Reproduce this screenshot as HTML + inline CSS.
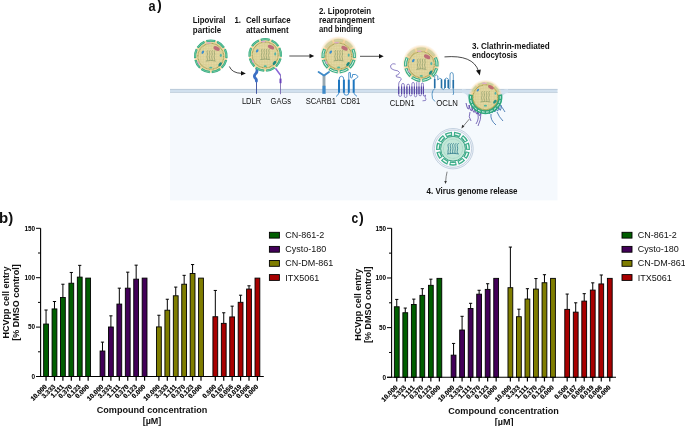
<!DOCTYPE html>
<html><head><meta charset="utf-8"><style>
html,body{margin:0;padding:0;background:#fff;}
svg{display:block;}
text{font-family:"Liberation Sans",Arial,sans-serif;}
</style></head><body>
<svg width="685" height="426" viewBox="0 0 685 426">
<defs>
<radialGradient id="halo" cx="0.5" cy="0.5" r="0.5">
<stop offset="0.8" stop-color="#f4d29b" stop-opacity="1"/>
<stop offset="1" stop-color="#f8e0b8" stop-opacity="0"/>
</radialGradient>
<pattern id="grid" width="1.6" height="1.6" patternUnits="userSpaceOnUse">
<path d="M0,0.4 H1.6 M0.4,0 V1.6" stroke="#c9bf80" stroke-width="0.45" fill="none"/>
</pattern>
</defs>
<rect width="685" height="426" fill="#fff"/>

<text x="148.6" y="10.9" font-size="14.8" font-weight="bold" fill="#111" textLength="7.1" lengthAdjust="spacingAndGlyphs">a</text>
<text x="156.9" y="10.3" font-size="14.3" font-weight="bold" fill="#111">)</text>
<rect x="170" y="92" width="387.5" height="108.4" fill="#f5f9fd"/>
<rect x="170" y="89" width="387.5" height="4" fill="#d1e0ee"/>
<rect x="170" y="88.9" width="387.5" height="0.9" fill="#b9c9d7"/>
<rect x="170" y="92.1" width="387.5" height="0.8" fill="#c5d1dc"/>
<text x="192.8" y="23.2" font-size="8.7" font-weight="bold" fill="#111" textLength="32.6" lengthAdjust="spacingAndGlyphs">Lipoviral</text>
<text x="192.8" y="32.5" font-size="8.7" font-weight="bold" fill="#111" textLength="28.5" lengthAdjust="spacingAndGlyphs">particle</text>
<text x="234.5" y="23.2" font-size="8.7" font-weight="bold" fill="#111" textLength="6.5" lengthAdjust="spacingAndGlyphs">1.</text>
<text x="245.9" y="23.2" font-size="8.7" font-weight="bold" fill="#111" textLength="44.7" lengthAdjust="spacingAndGlyphs">Cell surface</text>
<text x="245.9" y="32.6" font-size="8.7" font-weight="bold" fill="#111" textLength="42.8" lengthAdjust="spacingAndGlyphs">attachment</text>
<text x="318.9" y="13.6" font-size="8.7" font-weight="bold" fill="#111" textLength="52.2" lengthAdjust="spacingAndGlyphs">2. Lipoprotein</text>
<text x="318.9" y="23.0" font-size="8.7" font-weight="bold" fill="#111" textLength="55.8" lengthAdjust="spacingAndGlyphs">rearrangement</text>
<text x="318.9" y="32.3" font-size="8.7" font-weight="bold" fill="#111" textLength="43.7" lengthAdjust="spacingAndGlyphs">and binding</text>
<text x="472.0" y="49.0" font-size="8.7" font-weight="bold" fill="#111" textLength="77.8" lengthAdjust="spacingAndGlyphs">3. Clathrin-mediated</text>
<text x="472.0" y="58.0" font-size="8.7" font-weight="bold" fill="#111" textLength="45.2" lengthAdjust="spacingAndGlyphs">endocytosis</text>
<text x="426.6" y="193.7" font-size="8.7" font-weight="bold" fill="#111" textLength="90.9" lengthAdjust="spacingAndGlyphs">4. Virus genome release</text>
<text x="241.9" y="104.2" font-size="8.4" fill="#111" textLength="19.3" lengthAdjust="spacingAndGlyphs">LDLR</text>
<text x="270.6" y="104.2" font-size="8.4" fill="#111" textLength="20.4" lengthAdjust="spacingAndGlyphs">GAGs</text>
<text x="305.7" y="104.2" font-size="8.4" fill="#111" textLength="30.3" lengthAdjust="spacingAndGlyphs">SCARB1</text>
<text x="340.7" y="104.2" font-size="8.4" fill="#111" textLength="19.5" lengthAdjust="spacingAndGlyphs">CD81</text>
<text x="389.8" y="105.7" font-size="8.4" fill="#111" textLength="24.9" lengthAdjust="spacingAndGlyphs">CLDN1</text>
<text x="436.3" y="106.0" font-size="8.4" fill="#111" textLength="21.7" lengthAdjust="spacingAndGlyphs">OCLN</text>
<path d="M229.4,66.5 Q232,73 241.5,73.4" fill="none" stroke="#1a1a1a" stroke-width="0.8"/>
<path d="M241,71.1 L245.8,73.4 L241,75.6 Z" fill="#111"/>
<line x1="289.3" y1="56" x2="310" y2="56" stroke="#1a1a1a" stroke-width="0.75"/>
<path d="M309.5,53.8 L314.2,56 L309.5,58.2 Z" fill="#111"/>
<line x1="360" y1="56.3" x2="379.5" y2="56.3" stroke="#1a1a1a" stroke-width="0.75"/>
<path d="M379,54.1 L383.7,56.3 L379,58.5 Z" fill="#111"/>
<path d="M444.5,56.9 Q473,54.5 478.5,71" fill="none" stroke="#1a1a1a" stroke-width="0.8"/>
<path d="M476,70.5 L479.8,75.5 L480.8,69.5 Z" fill="#111"/>
<line x1="469.3" y1="119.1" x2="463" y2="126.5" stroke="#333" stroke-width="0.6"/>
<path d="M461.5,128.5 L462.2,124.8 L464.4,126.6 Z" fill="#333"/>
<path d="M447.1,171.7 Q446,176 445.6,182" fill="none" stroke="#333" stroke-width="0.6"/>
<path d="M444.3,181 L445.5,184 L446.8,181 Z" fill="#333"/>
<line x1="256.5" y1="79" x2="256.5" y2="93.8" stroke="#34489a" stroke-width="0.9"/>
<path d="M256.8,68.6 Q257.6,71.5 256,73.2 Q253.6,75.4 254.8,77.6 Q256.6,79.4 256.4,81" fill="none" stroke="#3b6fc4" stroke-width="2.8" stroke-linecap="round"/>
<path d="M280.5,75 L280.5,94.2" fill="none" stroke="#6f5ca8" stroke-width="0.8"/>
<path d="M275.8,68.8 L280.2,74.8" stroke="#8a66d6" stroke-width="1.5" stroke-linecap="round"/>
<line x1="280.5" y1="78.6" x2="280.5" y2="83.2" stroke="#6b42bc" stroke-width="2"/>
<line x1="324" y1="75" x2="324" y2="86" stroke="#8b9ea8" stroke-width="2.8"/>
<line x1="324" y1="76" x2="324" y2="85.5" stroke="#a9b8bf" stroke-width="0.8"/>
<line x1="324" y1="85.8" x2="324" y2="93.8" stroke="#3f8ac8" stroke-width="3.3"/>
<path d="M318.6,72 L323.6,75.2 M329,72 L324.4,75.2" fill="none" stroke="#3f8ac8" stroke-width="1.9" stroke-linecap="round"/>
<path d="M336,96.5 Q338,95.5 339,92.8 M339,80 Q339,76.2 341.45,76.2 Q343.9,76.2 343.9,80 M343.9,92.8 Q343.9,95.2 346.35,95.2 Q348.8,95.2 348.8,92.8 M348.8,80 L348.8,73 Q349.6,71 350.4,73 L350.6,77.5 Q351.5,79 352.3,77 L352.6,74.5 Q356,73.5 358.2,76.6 Q356.5,78.5 353.7,80 M353.7,92.8 Q355,95.5 357,96.3" fill="none" stroke="#1f77c0" stroke-width="0.8"/>
<line x1="339" y1="79.7" x2="339" y2="92.8" stroke="#1f77c0" stroke-width="2"/>
<line x1="343.9" y1="79.7" x2="343.9" y2="92.8" stroke="#1f77c0" stroke-width="2"/>
<line x1="348.8" y1="79.7" x2="348.8" y2="92.8" stroke="#1f77c0" stroke-width="2"/>
<line x1="353.7" y1="79.7" x2="353.7" y2="92.8" stroke="#1f77c0" stroke-width="2"/>
<path d="M395.6,64.2 Q392,62.8 390.5,66 Q390,69 394,70 Q399,70.5 399.5,72.5 Q399,75 396,75.5 Q395,77.3 400,77.5 Q402.5,78.5 400.5,80.5 Q398.7,82 398.7,84 L398.7,95.1 Q398.7,96.4 400.15,96.4 Q401.6,96.4 401.6,95.1 L401.6,84.8 Q401.6,83.5 402.95,83.5 Q404.3,83.5 404.3,84.8 L404.3,96.2 Q404.3,97.5 405.60,97.5 Q406.9,97.5 406.9,96.2 L406.9,85.5 Q406.9,84.2 408.20,84.2 Q409.5,84.2 409.5,85.5 L409.5,94.6 Q409.5,95.9 410.70,95.9 Q411.9,95.9 411.9,94.6 L411.9,83.8 Q411.9,82.5 413.15,82.5 Q414.4,82.5 414.4,83.8 L414.4,95.5 Q414.4,96.8 415.55,96.8 Q416.7,96.8 416.7,95.5 L416.7,82.5 Q416.7,81.2 417.85,81.2 Q419.0,81.2 419.0,82.5 L419.0,94.5 Q419.0,95.8 420.20,95.8 Q421.4,95.8 421.4,94.5 L421.4,84.3 Q421.4,83.0 422.40,83.0 Q423.4,83.0 423.4,84.3 L423.4,94.9 Q423.4,96.2 424.35,96.2 Q425.3,96.2 425.3,94.9 L425.3,97.5 Q426.5,99.5 425.5,100.5 L422.5,100.8" fill="none" stroke="#6a59b2" stroke-width="0.75"/>
<line x1="398.7" y1="86.5" x2="398.7" y2="94" stroke="#5a49a6" stroke-width="1.2"/>
<line x1="401.6" y1="86.5" x2="401.6" y2="94" stroke="#5a49a6" stroke-width="1.2"/>
<line x1="404.3" y1="86.5" x2="404.3" y2="94" stroke="#5a49a6" stroke-width="1.2"/>
<line x1="406.9" y1="86.5" x2="406.9" y2="94" stroke="#5a49a6" stroke-width="1.2"/>
<line x1="409.5" y1="86.5" x2="409.5" y2="94" stroke="#5a49a6" stroke-width="1.2"/>
<line x1="411.9" y1="86.5" x2="411.9" y2="94" stroke="#5a49a6" stroke-width="1.2"/>
<line x1="414.4" y1="86.5" x2="414.4" y2="94" stroke="#5a49a6" stroke-width="1.2"/>
<line x1="416.7" y1="86.5" x2="416.7" y2="94" stroke="#5a49a6" stroke-width="1.2"/>
<line x1="419.0" y1="86.5" x2="419.0" y2="94" stroke="#5a49a6" stroke-width="1.2"/>
<line x1="421.4" y1="86.5" x2="421.4" y2="94" stroke="#5a49a6" stroke-width="1.2"/>
<line x1="423.4" y1="86.5" x2="423.4" y2="94" stroke="#5a49a6" stroke-width="1.2"/>
<path d="M435,101.5 Q431.5,99.5 432,94 Q432.5,90 434.7,88.5 L434.7,76 Q436.2,73.8 437.8,76 L437.8,80 Q439.6,77 441.5,79 L441.5,88 Q443.2,91 445,88 L445,79 Q446.6,77 448.3,79 L448.3,88 Q449.2,90 450,88 L450,75 Q450,72.5 451.7,72.5 Q453.3,72.5 453.3,75 L453.3,91 Q454.2,93 453,95" fill="none" stroke="#2f7cb5" stroke-width="0.75"/>
<line x1="434.7" y1="79" x2="434.7" y2="88" stroke="#246fa6" stroke-width="1.6"/>
<line x1="441.5" y1="79.5" x2="441.5" y2="88.3" stroke="#246fa6" stroke-width="1.6"/>
<line x1="445" y1="79.5" x2="445" y2="88" stroke="#246fa6" stroke-width="1.6"/>
<line x1="448.3" y1="80" x2="448.3" y2="88" stroke="#246fa6" stroke-width="1.6"/>
<line x1="453.3" y1="80" x2="453.3" y2="88.5" stroke="#246fa6" stroke-width="1.6"/>
<circle cx="210.8" cy="56.3" r="16.4" fill="#f4dba6"/>
<path d="M206.35,41.19 A15.75,15.75 0 0 1 215.25,41.19" fill="none" stroke="#36ad86" stroke-width="2.3" stroke-linecap="butt" opacity="1.0"/>
<path d="M207.10,40.99 A15.75,15.75 0 0 1 214.50,40.99" fill="none" stroke="#78cca4" stroke-width="0.8" opacity="1.0"/>
<path d="M217.11,41.87 A15.75,15.75 0 0 1 223.92,47.58" fill="none" stroke="#36ad86" stroke-width="2.3" stroke-linecap="butt" opacity="1.0"/>
<path d="M217.80,42.19 A15.75,15.75 0 0 1 223.48,46.95" fill="none" stroke="#78cca4" stroke-width="0.8" opacity="1.0"/>
<path d="M224.91,49.30 A15.75,15.75 0 0 1 226.45,58.06" fill="none" stroke="#36ad86" stroke-width="2.3" stroke-linecap="butt" opacity="1.0"/>
<path d="M225.23,49.99 A15.75,15.75 0 0 1 226.52,57.29" fill="none" stroke="#78cca4" stroke-width="0.8" opacity="1.0"/>
<path d="M226.11,60.00 A15.75,15.75 0 0 1 221.66,67.71" fill="none" stroke="#36ad86" stroke-width="2.3" stroke-linecap="butt" opacity="1.0"/>
<path d="M225.91,60.75 A15.75,15.75 0 0 1 222.21,67.16" fill="none" stroke="#78cca4" stroke-width="0.8" opacity="1.0"/>
<path d="M220.15,68.98 A15.75,15.75 0 0 1 211.79,72.02" fill="none" stroke="#36ad86" stroke-width="2.3" stroke-linecap="butt" opacity="1.0"/>
<path d="M219.52,69.42 A15.75,15.75 0 0 1 212.56,71.95" fill="none" stroke="#78cca4" stroke-width="0.8" opacity="1.0"/>
<path d="M209.81,72.02 A15.75,15.75 0 0 1 201.45,68.98" fill="none" stroke="#36ad86" stroke-width="2.3" stroke-linecap="butt" opacity="1.0"/>
<path d="M209.04,71.95 A15.75,15.75 0 0 1 202.08,69.42" fill="none" stroke="#78cca4" stroke-width="0.8" opacity="1.0"/>
<path d="M199.94,67.71 A15.75,15.75 0 0 1 195.49,60.00" fill="none" stroke="#36ad86" stroke-width="2.3" stroke-linecap="butt" opacity="1.0"/>
<path d="M199.39,67.16 A15.75,15.75 0 0 1 195.69,60.75" fill="none" stroke="#78cca4" stroke-width="0.8" opacity="1.0"/>
<path d="M195.15,58.06 A15.75,15.75 0 0 1 196.69,49.30" fill="none" stroke="#36ad86" stroke-width="2.3" stroke-linecap="butt" opacity="1.0"/>
<path d="M195.08,57.29 A15.75,15.75 0 0 1 196.37,49.99" fill="none" stroke="#78cca4" stroke-width="0.8" opacity="1.0"/>
<path d="M197.68,47.58 A15.75,15.75 0 0 1 204.49,41.87" fill="none" stroke="#36ad86" stroke-width="2.3" stroke-linecap="butt" opacity="1.0"/>
<path d="M198.12,46.95 A15.75,15.75 0 0 1 203.80,42.19" fill="none" stroke="#78cca4" stroke-width="0.8" opacity="1.0"/>
<circle cx="210.8" cy="56.3" r="12.9" fill="#e6dba6" stroke="#a9a55a" stroke-width="1.3" stroke-dasharray="1 0.4"/>
<circle cx="210.8" cy="56.3" r="12.2" fill="url(#grid)" opacity="0.55"/>
<circle cx="210.8" cy="56.3" r="10.4" fill="none" stroke="#cdc07c" stroke-width="0.5" stroke-dasharray="0.5 0.7"/>
<path d="M207.80,50.30 C206.00,51.80 208.40,53.80 207.20,55.50 C206.10,57.30 208.30,58.80 207.20,60.80 M210.20,50.30 C208.40,51.80 210.80,53.80 209.60,55.50 C208.50,57.30 210.70,58.80 209.60,60.80 M212.60,50.30 C210.80,51.80 213.20,53.80 212.00,55.50 C210.90,57.30 213.10,58.80 212.00,60.80 M215.00,50.30 C213.20,51.80 215.60,53.80 214.40,55.50 C213.30,57.30 215.50,58.80 214.40,60.80 M205.80,61.10 Q210.80,59.70 215.80,61.10" fill="none" stroke="#8d9e6c" stroke-width="0.75"/>
<ellipse cx="216.60000000000002" cy="48.5" rx="3.4" ry="1.9" fill="#bd6d78" transform="rotate(28 216.60000000000002 48.5)"/>
<ellipse cx="202.8" cy="52.3" rx="1.1" ry="1.8" fill="#3a8ed0" transform="rotate(30 202.8 52.3)"/>
<ellipse cx="220.8" cy="55.3" rx="1" ry="1.6" fill="#55b3a6"/>
<ellipse cx="220.10000000000002" cy="64.3" rx="2.3" ry="1.3" fill="#1f8a80" transform="rotate(-50 220.10000000000002 64.3)"/>
<ellipse cx="210.8" cy="67.6" rx="1.6" ry="0.9" fill="#4fb89f"/>
<ellipse cx="198.5" cy="62.8" rx="0.8" ry="1.8" fill="#e0a4c6" transform="rotate(-30 198.5 62.8)"/>
<ellipse cx="208.8" cy="43.0" rx="2.6" ry="0.8" fill="#dcaacb"/>
<circle cx="265.2" cy="54.9" r="16.4" fill="#f4dba6"/>
<path d="M260.75,39.79 A15.75,15.75 0 0 1 269.65,39.79" fill="none" stroke="#36ad86" stroke-width="2.3" stroke-linecap="butt" opacity="1.0"/>
<path d="M261.50,39.59 A15.75,15.75 0 0 1 268.90,39.59" fill="none" stroke="#78cca4" stroke-width="0.8" opacity="1.0"/>
<path d="M271.51,40.47 A15.75,15.75 0 0 1 278.32,46.18" fill="none" stroke="#36ad86" stroke-width="2.3" stroke-linecap="butt" opacity="1.0"/>
<path d="M272.20,40.79 A15.75,15.75 0 0 1 277.88,45.55" fill="none" stroke="#78cca4" stroke-width="0.8" opacity="1.0"/>
<path d="M279.31,47.90 A15.75,15.75 0 0 1 280.85,56.66" fill="none" stroke="#36ad86" stroke-width="2.3" stroke-linecap="butt" opacity="1.0"/>
<path d="M279.63,48.59 A15.75,15.75 0 0 1 280.92,55.89" fill="none" stroke="#78cca4" stroke-width="0.8" opacity="1.0"/>
<path d="M280.51,58.60 A15.75,15.75 0 0 1 276.06,66.31" fill="none" stroke="#36ad86" stroke-width="2.3" stroke-linecap="butt" opacity="1.0"/>
<path d="M280.31,59.35 A15.75,15.75 0 0 1 276.61,65.76" fill="none" stroke="#78cca4" stroke-width="0.8" opacity="1.0"/>
<path d="M274.55,67.58 A15.75,15.75 0 0 1 266.19,70.62" fill="none" stroke="#36ad86" stroke-width="2.3" stroke-linecap="butt" opacity="1.0"/>
<path d="M273.92,68.02 A15.75,15.75 0 0 1 266.96,70.55" fill="none" stroke="#78cca4" stroke-width="0.8" opacity="1.0"/>
<path d="M264.21,70.62 A15.75,15.75 0 0 1 255.85,67.58" fill="none" stroke="#36ad86" stroke-width="2.3" stroke-linecap="butt" opacity="1.0"/>
<path d="M263.44,70.55 A15.75,15.75 0 0 1 256.48,68.02" fill="none" stroke="#78cca4" stroke-width="0.8" opacity="1.0"/>
<path d="M254.34,66.31 A15.75,15.75 0 0 1 249.89,58.60" fill="none" stroke="#36ad86" stroke-width="2.3" stroke-linecap="butt" opacity="1.0"/>
<path d="M253.79,65.76 A15.75,15.75 0 0 1 250.09,59.35" fill="none" stroke="#78cca4" stroke-width="0.8" opacity="1.0"/>
<path d="M249.55,56.66 A15.75,15.75 0 0 1 251.09,47.90" fill="none" stroke="#36ad86" stroke-width="2.3" stroke-linecap="butt" opacity="1.0"/>
<path d="M249.48,55.89 A15.75,15.75 0 0 1 250.77,48.59" fill="none" stroke="#78cca4" stroke-width="0.8" opacity="1.0"/>
<path d="M252.08,46.18 A15.75,15.75 0 0 1 258.89,40.47" fill="none" stroke="#36ad86" stroke-width="2.3" stroke-linecap="butt" opacity="1.0"/>
<path d="M252.52,45.55 A15.75,15.75 0 0 1 258.20,40.79" fill="none" stroke="#78cca4" stroke-width="0.8" opacity="1.0"/>
<circle cx="265.2" cy="54.9" r="12.9" fill="#e6dba6" stroke="#a9a55a" stroke-width="1.3" stroke-dasharray="1 0.4"/>
<circle cx="265.2" cy="54.9" r="12.2" fill="url(#grid)" opacity="0.55"/>
<circle cx="265.2" cy="54.9" r="10.4" fill="none" stroke="#cdc07c" stroke-width="0.5" stroke-dasharray="0.5 0.7"/>
<path d="M262.20,48.90 C260.40,50.40 262.80,52.40 261.60,54.10 C260.50,55.90 262.70,57.40 261.60,59.40 M264.60,48.90 C262.80,50.40 265.20,52.40 264.00,54.10 C262.90,55.90 265.10,57.40 264.00,59.40 M267.00,48.90 C265.20,50.40 267.60,52.40 266.40,54.10 C265.30,55.90 267.50,57.40 266.40,59.40 M269.40,48.90 C267.60,50.40 270.00,52.40 268.80,54.10 C267.70,55.90 269.90,57.40 268.80,59.40 M260.20,59.70 Q265.20,58.30 270.20,59.70" fill="none" stroke="#8d9e6c" stroke-width="0.75"/>
<ellipse cx="271.0" cy="47.1" rx="3.4" ry="1.9" fill="#bd6d78" transform="rotate(28 271.0 47.1)"/>
<ellipse cx="257.2" cy="50.9" rx="1.1" ry="1.8" fill="#3a8ed0" transform="rotate(30 257.2 50.9)"/>
<ellipse cx="275.2" cy="53.9" rx="1" ry="1.6" fill="#55b3a6"/>
<ellipse cx="274.5" cy="62.9" rx="2.3" ry="1.3" fill="#1f8a80" transform="rotate(-50 274.5 62.9)"/>
<ellipse cx="265.2" cy="66.2" rx="1.6" ry="0.9" fill="#4fb89f"/>
<ellipse cx="252.89999999999998" cy="61.4" rx="0.8" ry="1.8" fill="#e0a4c6" transform="rotate(-30 252.89999999999998 61.4)"/>
<ellipse cx="263.2" cy="41.599999999999994" rx="2.6" ry="0.8" fill="#dcaacb"/>
<circle cx="338.7" cy="55.1" r="19.2" fill="url(#halo)"/>
<path d="M334.25,40.99 A15.75,15.75 0 0 1 343.15,40.99" fill="none" stroke="#36ad86" stroke-width="3.2" stroke-linecap="butt" opacity="0.18"/>
<path d="M335.00,40.79 A15.75,15.75 0 0 1 342.40,40.79" fill="none" stroke="#d6f0e2" stroke-width="1.0" opacity="0.18"/>
<path d="M345.01,41.67 A15.75,15.75 0 0 1 351.82,47.38" fill="none" stroke="#36ad86" stroke-width="3.2" stroke-linecap="butt" opacity="0.18"/>
<path d="M345.70,41.99 A15.75,15.75 0 0 1 351.38,46.75" fill="none" stroke="#d6f0e2" stroke-width="1.0" opacity="0.18"/>
<path d="M352.81,49.10 A15.75,15.75 0 0 1 354.35,57.86" fill="none" stroke="#36ad86" stroke-width="3.2" stroke-linecap="butt" opacity="1.0"/>
<path d="M353.13,49.79 A15.75,15.75 0 0 1 354.42,57.09" fill="none" stroke="#d6f0e2" stroke-width="1.0" opacity="1.0"/>
<path d="M354.01,59.80 A15.75,15.75 0 0 1 349.56,67.51" fill="none" stroke="#36ad86" stroke-width="3.2" stroke-linecap="butt" opacity="1.0"/>
<path d="M353.81,60.55 A15.75,15.75 0 0 1 350.11,66.96" fill="none" stroke="#d6f0e2" stroke-width="1.0" opacity="1.0"/>
<path d="M348.05,68.78 A15.75,15.75 0 0 1 339.69,71.82" fill="none" stroke="#36ad86" stroke-width="3.2" stroke-linecap="butt" opacity="1.0"/>
<path d="M347.42,69.22 A15.75,15.75 0 0 1 340.46,71.75" fill="none" stroke="#d6f0e2" stroke-width="1.0" opacity="1.0"/>
<path d="M337.71,71.82 A15.75,15.75 0 0 1 329.35,68.78" fill="none" stroke="#36ad86" stroke-width="3.2" stroke-linecap="butt" opacity="1.0"/>
<path d="M336.94,71.75 A15.75,15.75 0 0 1 329.98,69.22" fill="none" stroke="#d6f0e2" stroke-width="1.0" opacity="1.0"/>
<path d="M327.84,67.51 A15.75,15.75 0 0 1 323.39,59.80" fill="none" stroke="#36ad86" stroke-width="3.2" stroke-linecap="butt" opacity="1.0"/>
<path d="M327.29,66.96 A15.75,15.75 0 0 1 323.59,60.55" fill="none" stroke="#d6f0e2" stroke-width="1.0" opacity="1.0"/>
<path d="M323.05,57.86 A15.75,15.75 0 0 1 324.59,49.10" fill="none" stroke="#36ad86" stroke-width="3.2" stroke-linecap="butt" opacity="1.0"/>
<path d="M322.98,57.09 A15.75,15.75 0 0 1 324.27,49.79" fill="none" stroke="#d6f0e2" stroke-width="1.0" opacity="1.0"/>
<path d="M325.58,47.38 A15.75,15.75 0 0 1 332.39,41.67" fill="none" stroke="#36ad86" stroke-width="3.2" stroke-linecap="butt" opacity="0.18"/>
<path d="M326.02,46.75 A15.75,15.75 0 0 1 331.70,41.99" fill="none" stroke="#d6f0e2" stroke-width="1.0" opacity="0.18"/>
<circle cx="338.7" cy="56.1" r="12.9" fill="#e6dba6" stroke="#a9a55a" stroke-width="1.3" stroke-dasharray="1 0.4"/>
<circle cx="338.7" cy="56.1" r="12.2" fill="url(#grid)" opacity="0.55"/>
<circle cx="338.7" cy="56.1" r="10.4" fill="none" stroke="#cdc07c" stroke-width="0.5" stroke-dasharray="0.5 0.7"/>
<path d="M335.70,50.10 C333.90,51.60 336.30,53.60 335.10,55.30 C334.00,57.10 336.20,58.60 335.10,60.60 M338.10,50.10 C336.30,51.60 338.70,53.60 337.50,55.30 C336.40,57.10 338.60,58.60 337.50,60.60 M340.50,50.10 C338.70,51.60 341.10,53.60 339.90,55.30 C338.80,57.10 341.00,58.60 339.90,60.60 M342.90,50.10 C341.10,51.60 343.50,53.60 342.30,55.30 C341.20,57.10 343.40,58.60 342.30,60.60 M333.70,60.90 Q338.70,59.50 343.70,60.90" fill="none" stroke="#8d9e6c" stroke-width="0.75"/>
<ellipse cx="344.5" cy="48.300000000000004" rx="3.4" ry="1.9" fill="#bd6d78" transform="rotate(28 344.5 48.300000000000004)"/>
<ellipse cx="330.7" cy="52.1" rx="1.1" ry="1.8" fill="#3a8ed0" transform="rotate(30 330.7 52.1)"/>
<ellipse cx="348.7" cy="55.1" rx="1" ry="1.6" fill="#55b3a6"/>
<ellipse cx="348.0" cy="64.1" rx="2.3" ry="1.3" fill="#1f8a80" transform="rotate(-50 348.0 64.1)"/>
<ellipse cx="338.7" cy="67.4" rx="1.6" ry="0.9" fill="#4fb89f"/>
<ellipse cx="326.4" cy="62.6" rx="0.8" ry="1.8" fill="#e0a4c6" transform="rotate(-30 326.4 62.6)"/>
<ellipse cx="336.7" cy="42.8" rx="2.6" ry="0.8" fill="#dcaacb"/>
<circle cx="421.3" cy="63.599999999999994" r="19.2" fill="url(#halo)"/>
<path d="M416.85,49.49 A15.75,15.75 0 0 1 425.75,49.49" fill="none" stroke="#36ad86" stroke-width="3.2" stroke-linecap="butt" opacity="0.18"/>
<path d="M417.60,49.29 A15.75,15.75 0 0 1 425.00,49.29" fill="none" stroke="#d6f0e2" stroke-width="1.0" opacity="0.18"/>
<path d="M427.61,50.17 A15.75,15.75 0 0 1 434.42,55.88" fill="none" stroke="#36ad86" stroke-width="3.2" stroke-linecap="butt" opacity="0.18"/>
<path d="M428.30,50.49 A15.75,15.75 0 0 1 433.98,55.25" fill="none" stroke="#d6f0e2" stroke-width="1.0" opacity="0.18"/>
<path d="M435.41,57.60 A15.75,15.75 0 0 1 436.95,66.36" fill="none" stroke="#36ad86" stroke-width="3.2" stroke-linecap="butt" opacity="1.0"/>
<path d="M435.73,58.29 A15.75,15.75 0 0 1 437.02,65.59" fill="none" stroke="#d6f0e2" stroke-width="1.0" opacity="1.0"/>
<path d="M436.61,68.30 A15.75,15.75 0 0 1 432.16,76.01" fill="none" stroke="#36ad86" stroke-width="3.2" stroke-linecap="butt" opacity="1.0"/>
<path d="M436.41,69.05 A15.75,15.75 0 0 1 432.71,75.46" fill="none" stroke="#d6f0e2" stroke-width="1.0" opacity="1.0"/>
<path d="M430.65,77.28 A15.75,15.75 0 0 1 422.29,80.32" fill="none" stroke="#36ad86" stroke-width="3.2" stroke-linecap="butt" opacity="1.0"/>
<path d="M430.02,77.72 A15.75,15.75 0 0 1 423.06,80.25" fill="none" stroke="#d6f0e2" stroke-width="1.0" opacity="1.0"/>
<path d="M420.31,80.32 A15.75,15.75 0 0 1 411.95,77.28" fill="none" stroke="#36ad86" stroke-width="3.2" stroke-linecap="butt" opacity="1.0"/>
<path d="M419.54,80.25 A15.75,15.75 0 0 1 412.58,77.72" fill="none" stroke="#d6f0e2" stroke-width="1.0" opacity="1.0"/>
<path d="M410.44,76.01 A15.75,15.75 0 0 1 405.99,68.30" fill="none" stroke="#36ad86" stroke-width="3.2" stroke-linecap="butt" opacity="1.0"/>
<path d="M409.89,75.46 A15.75,15.75 0 0 1 406.19,69.05" fill="none" stroke="#d6f0e2" stroke-width="1.0" opacity="1.0"/>
<path d="M405.65,66.36 A15.75,15.75 0 0 1 407.19,57.60" fill="none" stroke="#36ad86" stroke-width="3.2" stroke-linecap="butt" opacity="1.0"/>
<path d="M405.58,65.59 A15.75,15.75 0 0 1 406.87,58.29" fill="none" stroke="#d6f0e2" stroke-width="1.0" opacity="1.0"/>
<path d="M408.18,55.88 A15.75,15.75 0 0 1 414.99,50.17" fill="none" stroke="#36ad86" stroke-width="3.2" stroke-linecap="butt" opacity="0.18"/>
<path d="M408.62,55.25 A15.75,15.75 0 0 1 414.30,50.49" fill="none" stroke="#d6f0e2" stroke-width="1.0" opacity="0.18"/>
<circle cx="421.3" cy="64.6" r="12.9" fill="#e6dba6" stroke="#a9a55a" stroke-width="1.3" stroke-dasharray="1 0.4"/>
<circle cx="421.3" cy="64.6" r="12.2" fill="url(#grid)" opacity="0.55"/>
<circle cx="421.3" cy="64.6" r="10.4" fill="none" stroke="#cdc07c" stroke-width="0.5" stroke-dasharray="0.5 0.7"/>
<path d="M418.30,58.60 C416.50,60.10 418.90,62.10 417.70,63.80 C416.60,65.60 418.80,67.10 417.70,69.10 M420.70,58.60 C418.90,60.10 421.30,62.10 420.10,63.80 C419.00,65.60 421.20,67.10 420.10,69.10 M423.10,58.60 C421.30,60.10 423.70,62.10 422.50,63.80 C421.40,65.60 423.60,67.10 422.50,69.10 M425.50,58.60 C423.70,60.10 426.10,62.10 424.90,63.80 C423.80,65.60 426.00,67.10 424.90,69.10 M416.30,69.40 Q421.30,68.00 426.30,69.40" fill="none" stroke="#8d9e6c" stroke-width="0.75"/>
<ellipse cx="427.1" cy="56.8" rx="3.4" ry="1.9" fill="#bd6d78" transform="rotate(28 427.1 56.8)"/>
<ellipse cx="413.3" cy="60.599999999999994" rx="1.1" ry="1.8" fill="#3a8ed0" transform="rotate(30 413.3 60.599999999999994)"/>
<ellipse cx="431.3" cy="63.599999999999994" rx="1" ry="1.6" fill="#55b3a6"/>
<ellipse cx="430.6" cy="72.6" rx="2.3" ry="1.3" fill="#1f8a80" transform="rotate(-50 430.6 72.6)"/>
<ellipse cx="421.3" cy="75.89999999999999" rx="1.6" ry="0.9" fill="#4fb89f"/>
<ellipse cx="409.0" cy="71.1" rx="0.8" ry="1.8" fill="#e0a4c6" transform="rotate(-30 409.0 71.1)"/>
<ellipse cx="419.3" cy="51.3" rx="2.6" ry="0.8" fill="#dcaacb"/>
<path d="M462,91 Q468,91 470,97" fill="none" stroke="#d1e0ee" stroke-width="4"/>
<path d="M508,91 Q502,91 500,97" fill="none" stroke="#d1e0ee" stroke-width="4"/>
<path d="M466,103 Q467.0,108.0 468.1,109.0 Q469.5,110.0 469.1,105.0 Q469.8,109.5 470.9,110.6 Q472.3,111.6 471.9,106.2 Q472.6,111.0 473.7,112.2 Q475.1,113.2 474.7,107.4 Q475.4,112.5 476.5,113.8 Q477.9,114.8 477.5,108.6 Q478.2,114.0 479.3,115.4 Q480.7,116.4 480.3,109.8 " fill="none" stroke="#5e4aa8" stroke-width="0.9"/>
<path d="M477,112 Q480,118 476,124 M481,113 Q481,120 478,126 M470,112 Q468,117 471,121" fill="none" stroke="#5e4aa8" stroke-width="0.8"/>
<path d="M488,109 Q488.6,114.0 489.5,113.5 Q490.6,112.0 490.4,107.5 Q491.3,113.2 492.2,112.7 Q493.3,111.2 493.1,106.9 Q494.0,112.4 494.9,111.9 Q496.0,110.4 495.8,106.3 Q496.7,111.6 497.6,111.1 Q498.7,109.6 498.5,105.7 Q499.4,110.8 500.3,110.3 Q501.4,108.8 501.2,105.1 " fill="none" stroke="#2f68a8" stroke-width="0.9"/>
<path d="M499,104 Q503,108 505,112 M491,114 Q490,120 496,125 M497,112 Q499,117 503,121" fill="none" stroke="#2f68a8" stroke-width="0.8"/>
<circle cx="485.4" cy="96.7" r="17.2" fill="url(#halo)"/>
<path d="M472.24,91.61 A14.3,14.3 0 0 1 476.40,86.09" fill="none" stroke="#9ccf9a" stroke-width="2" opacity="0.45"/>
<path d="M478.03,84.94 A14.3,14.3 0 0 1 484.65,82.92" fill="none" stroke="#9ccf9a" stroke-width="2" opacity="0.45"/>
<path d="M486.65,82.95 A14.3,14.3 0 0 1 493.19,85.21" fill="none" stroke="#9ccf9a" stroke-width="2" opacity="0.45"/>
<path d="M494.78,86.41 A14.3,14.3 0 0 1 498.75,92.08" fill="none" stroke="#9ccf9a" stroke-width="2" opacity="0.45"/>
<path d="M499.88,94.65 A14.7,14.7 0 1 1 470.92,94.65" fill="none" stroke="#31a87e" stroke-width="4.6"/>
<path d="M500.26,96.16 A14.9,14.9 0 1 1 470.54,96.16" fill="none" stroke="#ffffff" stroke-width="0.9" stroke-dasharray="2.6 1.6"/>
<circle cx="485.4" cy="97.2" r="12.4" fill="#e6dba6" stroke="#aea553" stroke-width="1.3" stroke-dasharray="1 0.4"/>
<circle cx="485.4" cy="97.2" r="11.8" fill="url(#grid)" opacity="0.55"/>
<circle cx="485.4" cy="97.2" r="9.6" fill="none" stroke="#cdc07c" stroke-width="0.5" stroke-dasharray="0.5 0.7"/>
<path d="M482.40,91.20 C480.60,92.70 483.00,94.70 481.80,96.40 C480.70,98.20 482.90,99.70 481.80,101.70 M484.80,91.20 C483.00,92.70 485.40,94.70 484.20,96.40 C483.10,98.20 485.30,99.70 484.20,101.70 M487.20,91.20 C485.40,92.70 487.80,94.70 486.60,96.40 C485.50,98.20 487.70,99.70 486.60,101.70 M489.60,91.20 C487.80,92.70 490.20,94.70 489.00,96.40 C487.90,98.20 490.10,99.70 489.00,101.70 M480.40,102.00 Q485.40,100.60 490.40,102.00" fill="none" stroke="#8d9e6c" stroke-width="0.75"/>
<ellipse cx="490.9" cy="87.2" rx="3.2" ry="1.7" fill="#bf6d72" transform="rotate(28 490.9 87.2)"/>
<ellipse cx="477.9" cy="90.2" rx="0.9" ry="1.6" fill="#3d88cc" transform="rotate(40 477.9 90.2)"/>
<ellipse cx="494.9" cy="101.7" rx="2.2" ry="1.3" fill="#2a9486" transform="rotate(-50 494.9 101.7)"/>
<ellipse cx="485.4" cy="105.7" rx="1.6" ry="0.9" fill="#4fb89f"/>
<ellipse cx="484.4" cy="83.2" rx="2.8" ry="0.8" fill="#dcaacb"/>
<ellipse cx="495.4" cy="93.2" rx="0.9" ry="1.5" fill="#55b3a6"/>
<circle cx="453" cy="148.7" r="20.2" fill="#f1f5fa" stroke="#a3b7cc" stroke-width="0.6"/>
<circle cx="453" cy="148.7" r="18.6" fill="#f8fafd" stroke="#a3b7cc" stroke-width="0.6"/>
<path d="M453.91,133.83 A14.9,14.9 0 0 1 460.28,135.70" fill="none" stroke="#3aad89" stroke-width="4.2"/>
<path d="M454.94,133.93 A14.9,14.9 0 0 1 459.35,135.22" fill="none" stroke="#f2fbf6" stroke-width="1.4"/>
<path d="M461.81,136.68 A14.9,14.9 0 0 1 466.15,141.69" fill="none" stroke="#3aad89" stroke-width="4.2"/>
<path d="M462.62,137.32 A14.9,14.9 0 0 1 465.63,140.79" fill="none" stroke="#f2fbf6" stroke-width="1.4"/>
<path d="M466.91,143.35 A14.9,14.9 0 0 1 467.85,149.92" fill="none" stroke="#3aad89" stroke-width="4.2"/>
<path d="M467.25,144.33 A14.9,14.9 0 0 1 467.90,148.88" fill="none" stroke="#f2fbf6" stroke-width="1.4"/>
<path d="M467.59,151.72 A14.9,14.9 0 0 1 464.84,157.75" fill="none" stroke="#3aad89" stroke-width="4.2"/>
<path d="M467.35,152.73 A14.9,14.9 0 0 1 465.44,156.90" fill="none" stroke="#f2fbf6" stroke-width="1.4"/>
<path d="M463.64,159.13 A14.9,14.9 0 0 1 458.06,162.71" fill="none" stroke="#3aad89" stroke-width="4.2"/>
<path d="M462.89,159.84 A14.9,14.9 0 0 1 459.03,162.33" fill="none" stroke="#f2fbf6" stroke-width="1.4"/>
<path d="M456.32,163.23 A14.9,14.9 0 0 1 449.68,163.23" fill="none" stroke="#3aad89" stroke-width="4.2"/>
<path d="M455.30,163.42 A14.9,14.9 0 0 1 450.70,163.42" fill="none" stroke="#f2fbf6" stroke-width="1.4"/>
<path d="M447.94,162.71 A14.9,14.9 0 0 1 442.36,159.13" fill="none" stroke="#3aad89" stroke-width="4.2"/>
<path d="M446.97,162.33 A14.9,14.9 0 0 1 443.11,159.84" fill="none" stroke="#f2fbf6" stroke-width="1.4"/>
<path d="M441.16,157.75 A14.9,14.9 0 0 1 438.41,151.72" fill="none" stroke="#3aad89" stroke-width="4.2"/>
<path d="M440.56,156.90 A14.9,14.9 0 0 1 438.65,152.73" fill="none" stroke="#f2fbf6" stroke-width="1.4"/>
<path d="M438.15,149.92 A14.9,14.9 0 0 1 439.09,143.35" fill="none" stroke="#3aad89" stroke-width="4.2"/>
<path d="M438.10,148.88 A14.9,14.9 0 0 1 438.75,144.33" fill="none" stroke="#f2fbf6" stroke-width="1.4"/>
<path d="M439.85,141.69 A14.9,14.9 0 0 1 444.19,136.68" fill="none" stroke="#3aad89" stroke-width="4.2"/>
<path d="M440.37,140.79 A14.9,14.9 0 0 1 443.38,137.32" fill="none" stroke="#f2fbf6" stroke-width="1.4"/>
<path d="M445.72,135.70 A14.9,14.9 0 0 1 452.09,133.83" fill="none" stroke="#3aad89" stroke-width="4.2"/>
<path d="M446.65,135.22 A14.9,14.9 0 0 1 451.06,133.93" fill="none" stroke="#f2fbf6" stroke-width="1.4"/>
<circle cx="453" cy="148.7" r="12.4" fill="#c2e7d8" stroke="#2a9a78" stroke-width="0.9"/>
<circle cx="453" cy="148.7" r="9.6" fill="none" stroke="#5aae94" stroke-width="0.45" stroke-dasharray="0.6 0.7"/>
<path d="M448.20,153.70 C447.30,150.70 449.10,149.20 448.20,146.70 C447.40,144.70 448.80,143.20 449.40,143.50 M450.50,153.70 C449.60,150.70 451.40,149.20 450.50,146.70 C449.70,144.70 451.10,143.20 451.70,143.50 M452.80,153.70 C451.90,150.70 453.70,149.20 452.80,146.70 C452.00,144.70 453.40,143.20 454.00,143.50 M455.10,153.70 C454.20,150.70 456.00,149.20 455.10,146.70 C454.30,144.70 455.70,143.20 456.30,143.50 M457.40,153.70 C456.50,150.70 458.30,149.20 457.40,146.70 C456.60,144.70 458.00,143.20 458.60,143.50 M447.00,154.00 Q453.00,152.50 459.00,154.00" fill="none" stroke="#1f6f84" stroke-width="0.7"/>
<line x1="46.06" y1="324.04" x2="46.06" y2="310.01" stroke="#000" stroke-width="1"/>
<line x1="44.46" y1="310.01" x2="47.66" y2="310.01" stroke="#000" stroke-width="1"/>
<rect x="43.66" y="324.04" width="4.8" height="52.46" fill="#005e00" stroke="#000" stroke-width="0.9"/>
<line x1="54.48" y1="308.92" x2="54.48" y2="301.51" stroke="#000" stroke-width="1"/>
<line x1="52.88" y1="301.51" x2="56.08" y2="301.51" stroke="#000" stroke-width="1"/>
<rect x="52.08" y="308.92" width="4.8" height="67.58" fill="#005e00" stroke="#000" stroke-width="0.9"/>
<line x1="62.90" y1="297.46" x2="62.90" y2="284.22" stroke="#000" stroke-width="1"/>
<line x1="61.30" y1="284.22" x2="64.50" y2="284.22" stroke="#000" stroke-width="1"/>
<rect x="60.50" y="297.46" width="4.8" height="79.04" fill="#005e00" stroke="#000" stroke-width="0.9"/>
<line x1="71.32" y1="283.23" x2="71.32" y2="272.46" stroke="#000" stroke-width="1"/>
<line x1="69.72" y1="272.46" x2="72.92" y2="272.46" stroke="#000" stroke-width="1"/>
<rect x="68.92" y="283.23" width="4.8" height="93.27" fill="#005e00" stroke="#000" stroke-width="0.9"/>
<line x1="79.74" y1="277.11" x2="79.74" y2="265.35" stroke="#000" stroke-width="1"/>
<line x1="78.14" y1="265.35" x2="81.34" y2="265.35" stroke="#000" stroke-width="1"/>
<rect x="77.34" y="277.11" width="4.8" height="99.39" fill="#005e00" stroke="#000" stroke-width="0.9"/>
<rect x="85.76" y="278.10" width="4.8" height="98.40" fill="#005e00" stroke="#000" stroke-width="0.9"/>
<line x1="102.48" y1="351.01" x2="102.48" y2="342.12" stroke="#000" stroke-width="1"/>
<line x1="100.88" y1="342.12" x2="104.08" y2="342.12" stroke="#000" stroke-width="1"/>
<rect x="100.08" y="351.01" width="4.8" height="25.49" fill="#420058" stroke="#000" stroke-width="0.9"/>
<line x1="110.90" y1="327.00" x2="110.90" y2="315.84" stroke="#000" stroke-width="1"/>
<line x1="109.30" y1="315.84" x2="112.50" y2="315.84" stroke="#000" stroke-width="1"/>
<rect x="108.50" y="327.00" width="4.8" height="49.50" fill="#420058" stroke="#000" stroke-width="0.9"/>
<line x1="119.32" y1="304.08" x2="119.32" y2="288.17" stroke="#000" stroke-width="1"/>
<line x1="117.72" y1="288.17" x2="120.92" y2="288.17" stroke="#000" stroke-width="1"/>
<rect x="116.92" y="304.08" width="4.8" height="72.42" fill="#420058" stroke="#000" stroke-width="0.9"/>
<line x1="127.74" y1="288.17" x2="127.74" y2="272.17" stroke="#000" stroke-width="1"/>
<line x1="126.14" y1="272.17" x2="129.34" y2="272.17" stroke="#000" stroke-width="1"/>
<rect x="125.34" y="288.17" width="4.8" height="88.33" fill="#420058" stroke="#000" stroke-width="0.9"/>
<line x1="136.16" y1="279.18" x2="136.16" y2="265.15" stroke="#000" stroke-width="1"/>
<line x1="134.56" y1="265.15" x2="137.76" y2="265.15" stroke="#000" stroke-width="1"/>
<rect x="133.76" y="279.18" width="4.8" height="97.32" fill="#420058" stroke="#000" stroke-width="0.9"/>
<rect x="142.18" y="278.10" width="4.8" height="98.40" fill="#420058" stroke="#000" stroke-width="0.9"/>
<line x1="158.90" y1="326.90" x2="158.90" y2="315.24" stroke="#000" stroke-width="1"/>
<line x1="157.30" y1="315.24" x2="160.50" y2="315.24" stroke="#000" stroke-width="1"/>
<rect x="156.50" y="326.90" width="4.8" height="49.60" fill="#7f7d00" stroke="#000" stroke-width="0.9"/>
<line x1="167.32" y1="310.21" x2="167.32" y2="299.24" stroke="#000" stroke-width="1"/>
<line x1="165.72" y1="299.24" x2="168.92" y2="299.24" stroke="#000" stroke-width="1"/>
<rect x="164.92" y="310.21" width="4.8" height="66.29" fill="#7f7d00" stroke="#000" stroke-width="0.9"/>
<line x1="175.74" y1="295.78" x2="175.74" y2="287.09" stroke="#000" stroke-width="1"/>
<line x1="174.14" y1="287.09" x2="177.34" y2="287.09" stroke="#000" stroke-width="1"/>
<rect x="173.34" y="295.78" width="4.8" height="80.72" fill="#7f7d00" stroke="#000" stroke-width="0.9"/>
<line x1="184.16" y1="284.22" x2="184.16" y2="275.33" stroke="#000" stroke-width="1"/>
<line x1="182.56" y1="275.33" x2="185.76" y2="275.33" stroke="#000" stroke-width="1"/>
<rect x="181.76" y="284.22" width="4.8" height="92.28" fill="#7f7d00" stroke="#000" stroke-width="0.9"/>
<line x1="192.58" y1="273.45" x2="192.58" y2="264.56" stroke="#000" stroke-width="1"/>
<line x1="190.98" y1="264.56" x2="194.18" y2="264.56" stroke="#000" stroke-width="1"/>
<rect x="190.18" y="273.45" width="4.8" height="103.05" fill="#7f7d00" stroke="#000" stroke-width="0.9"/>
<rect x="198.60" y="278.10" width="4.8" height="98.40" fill="#7f7d00" stroke="#000" stroke-width="0.9"/>
<line x1="215.32" y1="316.73" x2="215.32" y2="290.45" stroke="#000" stroke-width="1"/>
<line x1="213.72" y1="290.45" x2="216.92" y2="290.45" stroke="#000" stroke-width="1"/>
<rect x="212.92" y="316.73" width="4.8" height="59.77" fill="#a80000" stroke="#000" stroke-width="0.9"/>
<line x1="223.74" y1="323.35" x2="223.74" y2="312.77" stroke="#000" stroke-width="1"/>
<line x1="222.14" y1="312.77" x2="225.34" y2="312.77" stroke="#000" stroke-width="1"/>
<rect x="221.34" y="323.35" width="4.8" height="53.15" fill="#a80000" stroke="#000" stroke-width="0.9"/>
<line x1="232.16" y1="316.92" x2="232.16" y2="306.15" stroke="#000" stroke-width="1"/>
<line x1="230.56" y1="306.15" x2="233.76" y2="306.15" stroke="#000" stroke-width="1"/>
<rect x="229.76" y="316.92" width="4.8" height="59.58" fill="#a80000" stroke="#000" stroke-width="0.9"/>
<line x1="240.58" y1="302.30" x2="240.58" y2="295.19" stroke="#000" stroke-width="1"/>
<line x1="238.98" y1="295.19" x2="242.18" y2="295.19" stroke="#000" stroke-width="1"/>
<rect x="238.18" y="302.30" width="4.8" height="74.20" fill="#a80000" stroke="#000" stroke-width="0.9"/>
<line x1="249.00" y1="289.06" x2="249.00" y2="285.80" stroke="#000" stroke-width="1"/>
<line x1="247.40" y1="285.80" x2="250.60" y2="285.80" stroke="#000" stroke-width="1"/>
<rect x="246.60" y="289.06" width="4.8" height="87.44" fill="#a80000" stroke="#000" stroke-width="0.9"/>
<rect x="255.02" y="278.10" width="4.8" height="98.40" fill="#a80000" stroke="#000" stroke-width="0.9"/>
<line x1="40.6" y1="228.30" x2="40.6" y2="376.50" stroke="#000" stroke-width="1.1"/>
<line x1="36.0" y1="376.50" x2="40.6" y2="376.50" stroke="#000" stroke-width="1"/>
<text x="35.1" y="378.80" font-size="6.4" font-weight="bold" text-anchor="end" fill="#000">0</text>
<line x1="36.0" y1="327.10" x2="40.6" y2="327.10" stroke="#000" stroke-width="1"/>
<text x="35.1" y="329.40" font-size="6.4" font-weight="bold" text-anchor="end" fill="#000">50</text>
<line x1="36.0" y1="277.70" x2="40.6" y2="277.70" stroke="#000" stroke-width="1"/>
<text x="35.1" y="280.00" font-size="6.4" font-weight="bold" text-anchor="end" fill="#000">100</text>
<line x1="36.0" y1="228.30" x2="40.6" y2="228.30" stroke="#000" stroke-width="1"/>
<text x="35.1" y="230.60" font-size="6.4" font-weight="bold" text-anchor="end" fill="#000">150</text>
<line x1="38.0" y1="351.80" x2="40.6" y2="351.80" stroke="#000" stroke-width="1"/>
<line x1="38.0" y1="302.40" x2="40.6" y2="302.40" stroke="#000" stroke-width="1"/>
<line x1="38.0" y1="253.00" x2="40.6" y2="253.00" stroke="#000" stroke-width="1"/>
<line x1="36.0" y1="376.50" x2="263.8" y2="376.50" stroke="#000" stroke-width="1.1"/>
<line x1="46.06" y1="376.50" x2="46.06" y2="380.70" stroke="#000" stroke-width="1.2"/>
<text x="47.46" y="387.10" font-size="6.6" font-weight="bold" text-anchor="end" fill="#000" stroke="#000" stroke-width="0.18" transform="rotate(-45 47.46 387.10)">10.000</text>
<line x1="54.48" y1="376.50" x2="54.48" y2="380.70" stroke="#000" stroke-width="1.2"/>
<text x="55.88" y="387.10" font-size="6.6" font-weight="bold" text-anchor="end" fill="#000" stroke="#000" stroke-width="0.18" transform="rotate(-45 55.88 387.10)">3.333</text>
<line x1="62.90" y1="376.50" x2="62.90" y2="380.70" stroke="#000" stroke-width="1.2"/>
<text x="64.30" y="387.10" font-size="6.6" font-weight="bold" text-anchor="end" fill="#000" stroke="#000" stroke-width="0.18" transform="rotate(-45 64.30 387.10)">1.111</text>
<line x1="71.32" y1="376.50" x2="71.32" y2="380.70" stroke="#000" stroke-width="1.2"/>
<text x="72.72" y="387.10" font-size="6.6" font-weight="bold" text-anchor="end" fill="#000" stroke="#000" stroke-width="0.18" transform="rotate(-45 72.72 387.10)">0.370</text>
<line x1="79.74" y1="376.50" x2="79.74" y2="380.70" stroke="#000" stroke-width="1.2"/>
<text x="81.14" y="387.10" font-size="6.6" font-weight="bold" text-anchor="end" fill="#000" stroke="#000" stroke-width="0.18" transform="rotate(-45 81.14 387.10)">0.123</text>
<line x1="88.16" y1="376.50" x2="88.16" y2="380.70" stroke="#000" stroke-width="1.2"/>
<text x="89.56" y="387.10" font-size="6.6" font-weight="bold" text-anchor="end" fill="#000" stroke="#000" stroke-width="0.18" transform="rotate(-45 89.56 387.10)">0.000</text>
<line x1="102.48" y1="376.50" x2="102.48" y2="380.70" stroke="#000" stroke-width="1.2"/>
<text x="103.88" y="387.10" font-size="6.6" font-weight="bold" text-anchor="end" fill="#000" stroke="#000" stroke-width="0.18" transform="rotate(-45 103.88 387.10)">10.000</text>
<line x1="110.90" y1="376.50" x2="110.90" y2="380.70" stroke="#000" stroke-width="1.2"/>
<text x="112.30" y="387.10" font-size="6.6" font-weight="bold" text-anchor="end" fill="#000" stroke="#000" stroke-width="0.18" transform="rotate(-45 112.30 387.10)">3.333</text>
<line x1="119.32" y1="376.50" x2="119.32" y2="380.70" stroke="#000" stroke-width="1.2"/>
<text x="120.72" y="387.10" font-size="6.6" font-weight="bold" text-anchor="end" fill="#000" stroke="#000" stroke-width="0.18" transform="rotate(-45 120.72 387.10)">1.111</text>
<line x1="127.74" y1="376.50" x2="127.74" y2="380.70" stroke="#000" stroke-width="1.2"/>
<text x="129.14" y="387.10" font-size="6.6" font-weight="bold" text-anchor="end" fill="#000" stroke="#000" stroke-width="0.18" transform="rotate(-45 129.14 387.10)">0.370</text>
<line x1="136.16" y1="376.50" x2="136.16" y2="380.70" stroke="#000" stroke-width="1.2"/>
<text x="137.56" y="387.10" font-size="6.6" font-weight="bold" text-anchor="end" fill="#000" stroke="#000" stroke-width="0.18" transform="rotate(-45 137.56 387.10)">0.123</text>
<line x1="144.58" y1="376.50" x2="144.58" y2="380.70" stroke="#000" stroke-width="1.2"/>
<text x="145.98" y="387.10" font-size="6.6" font-weight="bold" text-anchor="end" fill="#000" stroke="#000" stroke-width="0.18" transform="rotate(-45 145.98 387.10)">0.000</text>
<line x1="158.90" y1="376.50" x2="158.90" y2="380.70" stroke="#000" stroke-width="1.2"/>
<text x="160.30" y="387.10" font-size="6.6" font-weight="bold" text-anchor="end" fill="#000" stroke="#000" stroke-width="0.18" transform="rotate(-45 160.30 387.10)">10.000</text>
<line x1="167.32" y1="376.50" x2="167.32" y2="380.70" stroke="#000" stroke-width="1.2"/>
<text x="168.72" y="387.10" font-size="6.6" font-weight="bold" text-anchor="end" fill="#000" stroke="#000" stroke-width="0.18" transform="rotate(-45 168.72 387.10)">3.333</text>
<line x1="175.74" y1="376.50" x2="175.74" y2="380.70" stroke="#000" stroke-width="1.2"/>
<text x="177.14" y="387.10" font-size="6.6" font-weight="bold" text-anchor="end" fill="#000" stroke="#000" stroke-width="0.18" transform="rotate(-45 177.14 387.10)">1.111</text>
<line x1="184.16" y1="376.50" x2="184.16" y2="380.70" stroke="#000" stroke-width="1.2"/>
<text x="185.56" y="387.10" font-size="6.6" font-weight="bold" text-anchor="end" fill="#000" stroke="#000" stroke-width="0.18" transform="rotate(-45 185.56 387.10)">0.370</text>
<line x1="192.58" y1="376.50" x2="192.58" y2="380.70" stroke="#000" stroke-width="1.2"/>
<text x="193.98" y="387.10" font-size="6.6" font-weight="bold" text-anchor="end" fill="#000" stroke="#000" stroke-width="0.18" transform="rotate(-45 193.98 387.10)">0.123</text>
<line x1="201.00" y1="376.50" x2="201.00" y2="380.70" stroke="#000" stroke-width="1.2"/>
<text x="202.40" y="387.10" font-size="6.6" font-weight="bold" text-anchor="end" fill="#000" stroke="#000" stroke-width="0.18" transform="rotate(-45 202.40 387.10)">0.000</text>
<line x1="215.32" y1="376.50" x2="215.32" y2="380.70" stroke="#000" stroke-width="1.2"/>
<text x="216.72" y="387.10" font-size="6.6" font-weight="bold" text-anchor="end" fill="#000" stroke="#000" stroke-width="0.18" transform="rotate(-45 216.72 387.10)">0.500</text>
<line x1="223.74" y1="376.50" x2="223.74" y2="380.70" stroke="#000" stroke-width="1.2"/>
<text x="225.14" y="387.10" font-size="6.6" font-weight="bold" text-anchor="end" fill="#000" stroke="#000" stroke-width="0.18" transform="rotate(-45 225.14 387.10)">0.167</text>
<line x1="232.16" y1="376.50" x2="232.16" y2="380.70" stroke="#000" stroke-width="1.2"/>
<text x="233.56" y="387.10" font-size="6.6" font-weight="bold" text-anchor="end" fill="#000" stroke="#000" stroke-width="0.18" transform="rotate(-45 233.56 387.10)">0.056</text>
<line x1="240.58" y1="376.50" x2="240.58" y2="380.70" stroke="#000" stroke-width="1.2"/>
<text x="241.98" y="387.10" font-size="6.6" font-weight="bold" text-anchor="end" fill="#000" stroke="#000" stroke-width="0.18" transform="rotate(-45 241.98 387.10)">0.019</text>
<line x1="249.00" y1="376.50" x2="249.00" y2="380.70" stroke="#000" stroke-width="1.2"/>
<text x="250.40" y="387.10" font-size="6.6" font-weight="bold" text-anchor="end" fill="#000" stroke="#000" stroke-width="0.18" transform="rotate(-45 250.40 387.10)">0.006</text>
<line x1="257.42" y1="376.50" x2="257.42" y2="380.70" stroke="#000" stroke-width="1.2"/>
<text x="258.82" y="387.10" font-size="6.6" font-weight="bold" text-anchor="end" fill="#000" stroke="#000" stroke-width="0.18" transform="rotate(-45 258.82 387.10)">0.000</text>
<text x="0" y="0" font-size="9" font-weight="bold" text-anchor="middle" fill="#111" transform="translate(8.8 302.40) rotate(-90)">HCVpp cell entry</text>
<text x="0" y="0" font-size="9" font-weight="bold" text-anchor="middle" fill="#111" transform="translate(19 302.40) rotate(-90)">[% DMSO control]</text>
<text x="96.7" y="413.4" font-size="9" font-weight="bold" fill="#111" textLength="110.6" lengthAdjust="spacingAndGlyphs">Compound concentration</text>
<text x="152" y="424.1" font-size="9" font-weight="bold" text-anchor="middle" fill="#111">[µM]</text>
<text x="-1.0" y="223" font-size="15" font-weight="bold" fill="#111">b)</text>
<rect x="269.4" y="232.30" width="10" height="5.8" fill="#005e00" stroke="#000" stroke-width="0.9"/>
<text x="285.3" y="238.20" font-size="9" fill="#111">CN-861-2</text>
<rect x="269.4" y="246.40" width="10" height="5.8" fill="#420058" stroke="#000" stroke-width="0.9"/>
<text x="285.3" y="252.30" font-size="9" fill="#111">Cysto-180</text>
<rect x="269.4" y="260.50" width="10" height="5.8" fill="#7f7d00" stroke="#000" stroke-width="0.9"/>
<text x="285.3" y="266.40" font-size="9" fill="#111">CN-DM-861</text>
<rect x="269.4" y="274.60" width="10" height="5.8" fill="#a80000" stroke="#000" stroke-width="0.9"/>
<text x="285.3" y="280.50" font-size="9" fill="#111">ITX5061</text>
<line x1="396.76" y1="306.77" x2="396.76" y2="299.42" stroke="#000" stroke-width="1"/>
<line x1="395.16" y1="299.42" x2="398.36" y2="299.42" stroke="#000" stroke-width="1"/>
<rect x="394.36" y="306.77" width="4.8" height="70.53" fill="#005e00" stroke="#000" stroke-width="0.9"/>
<line x1="405.28" y1="312.73" x2="405.28" y2="308.06" stroke="#000" stroke-width="1"/>
<line x1="403.68" y1="308.06" x2="406.88" y2="308.06" stroke="#000" stroke-width="1"/>
<rect x="402.88" y="312.73" width="4.8" height="64.57" fill="#005e00" stroke="#000" stroke-width="0.9"/>
<line x1="413.80" y1="304.49" x2="413.80" y2="299.12" stroke="#000" stroke-width="1"/>
<line x1="412.20" y1="299.12" x2="415.40" y2="299.12" stroke="#000" stroke-width="1"/>
<rect x="411.40" y="304.49" width="4.8" height="72.81" fill="#005e00" stroke="#000" stroke-width="0.9"/>
<line x1="422.32" y1="295.35" x2="422.32" y2="288.69" stroke="#000" stroke-width="1"/>
<line x1="420.72" y1="288.69" x2="423.92" y2="288.69" stroke="#000" stroke-width="1"/>
<rect x="419.92" y="295.35" width="4.8" height="81.95" fill="#005e00" stroke="#000" stroke-width="0.9"/>
<line x1="430.84" y1="285.32" x2="430.84" y2="279.16" stroke="#000" stroke-width="1"/>
<line x1="429.24" y1="279.16" x2="432.44" y2="279.16" stroke="#000" stroke-width="1"/>
<rect x="428.44" y="285.32" width="4.8" height="91.98" fill="#005e00" stroke="#000" stroke-width="0.9"/>
<rect x="436.96" y="278.36" width="4.8" height="98.94" fill="#005e00" stroke="#000" stroke-width="0.9"/>
<line x1="453.57" y1="355.15" x2="453.57" y2="343.43" stroke="#000" stroke-width="1"/>
<line x1="451.97" y1="343.43" x2="455.17" y2="343.43" stroke="#000" stroke-width="1"/>
<rect x="451.17" y="355.15" width="4.8" height="22.15" fill="#420058" stroke="#000" stroke-width="0.9"/>
<line x1="462.09" y1="330.02" x2="462.09" y2="316.31" stroke="#000" stroke-width="1"/>
<line x1="460.49" y1="316.31" x2="463.69" y2="316.31" stroke="#000" stroke-width="1"/>
<rect x="459.69" y="330.02" width="4.8" height="47.28" fill="#420058" stroke="#000" stroke-width="0.9"/>
<line x1="470.61" y1="308.46" x2="470.61" y2="303.30" stroke="#000" stroke-width="1"/>
<line x1="469.01" y1="303.30" x2="472.21" y2="303.30" stroke="#000" stroke-width="1"/>
<rect x="468.21" y="308.46" width="4.8" height="68.84" fill="#420058" stroke="#000" stroke-width="0.9"/>
<line x1="479.13" y1="294.16" x2="479.13" y2="290.28" stroke="#000" stroke-width="1"/>
<line x1="477.53" y1="290.28" x2="480.73" y2="290.28" stroke="#000" stroke-width="1"/>
<rect x="476.73" y="294.16" width="4.8" height="83.14" fill="#420058" stroke="#000" stroke-width="0.9"/>
<line x1="487.65" y1="289.39" x2="487.65" y2="283.73" stroke="#000" stroke-width="1"/>
<line x1="486.05" y1="283.73" x2="489.25" y2="283.73" stroke="#000" stroke-width="1"/>
<rect x="485.25" y="289.39" width="4.8" height="87.91" fill="#420058" stroke="#000" stroke-width="0.9"/>
<rect x="493.77" y="278.36" width="4.8" height="98.94" fill="#420058" stroke="#000" stroke-width="0.9"/>
<line x1="510.38" y1="287.70" x2="510.38" y2="247.07" stroke="#000" stroke-width="1"/>
<line x1="508.78" y1="247.07" x2="511.98" y2="247.07" stroke="#000" stroke-width="1"/>
<rect x="507.98" y="287.70" width="4.8" height="89.60" fill="#7f7d00" stroke="#000" stroke-width="0.9"/>
<line x1="518.90" y1="316.71" x2="518.90" y2="309.16" stroke="#000" stroke-width="1"/>
<line x1="517.30" y1="309.16" x2="520.50" y2="309.16" stroke="#000" stroke-width="1"/>
<rect x="516.50" y="316.71" width="4.8" height="60.59" fill="#7f7d00" stroke="#000" stroke-width="0.9"/>
<line x1="527.42" y1="299.03" x2="527.42" y2="288.69" stroke="#000" stroke-width="1"/>
<line x1="525.82" y1="288.69" x2="529.02" y2="288.69" stroke="#000" stroke-width="1"/>
<rect x="525.02" y="299.03" width="4.8" height="78.27" fill="#7f7d00" stroke="#000" stroke-width="0.9"/>
<line x1="535.94" y1="289.09" x2="535.94" y2="278.56" stroke="#000" stroke-width="1"/>
<line x1="534.34" y1="278.56" x2="537.54" y2="278.56" stroke="#000" stroke-width="1"/>
<rect x="533.54" y="289.09" width="4.8" height="88.21" fill="#7f7d00" stroke="#000" stroke-width="0.9"/>
<line x1="544.46" y1="282.73" x2="544.46" y2="274.69" stroke="#000" stroke-width="1"/>
<line x1="542.86" y1="274.69" x2="546.06" y2="274.69" stroke="#000" stroke-width="1"/>
<rect x="542.06" y="282.73" width="4.8" height="94.57" fill="#7f7d00" stroke="#000" stroke-width="0.9"/>
<rect x="550.58" y="278.36" width="4.8" height="98.94" fill="#7f7d00" stroke="#000" stroke-width="0.9"/>
<line x1="567.19" y1="309.36" x2="567.19" y2="294.06" stroke="#000" stroke-width="1"/>
<line x1="565.59" y1="294.06" x2="568.79" y2="294.06" stroke="#000" stroke-width="1"/>
<rect x="564.79" y="309.36" width="4.8" height="67.94" fill="#a80000" stroke="#000" stroke-width="0.9"/>
<line x1="575.71" y1="312.14" x2="575.71" y2="302.80" stroke="#000" stroke-width="1"/>
<line x1="574.11" y1="302.80" x2="577.31" y2="302.80" stroke="#000" stroke-width="1"/>
<rect x="573.31" y="312.14" width="4.8" height="65.16" fill="#a80000" stroke="#000" stroke-width="0.9"/>
<line x1="584.23" y1="301.11" x2="584.23" y2="293.66" stroke="#000" stroke-width="1"/>
<line x1="582.63" y1="293.66" x2="585.83" y2="293.66" stroke="#000" stroke-width="1"/>
<rect x="581.83" y="301.11" width="4.8" height="76.19" fill="#a80000" stroke="#000" stroke-width="0.9"/>
<line x1="592.75" y1="290.09" x2="592.75" y2="282.83" stroke="#000" stroke-width="1"/>
<line x1="591.15" y1="282.83" x2="594.35" y2="282.83" stroke="#000" stroke-width="1"/>
<rect x="590.35" y="290.09" width="4.8" height="87.21" fill="#a80000" stroke="#000" stroke-width="0.9"/>
<line x1="601.27" y1="283.93" x2="601.27" y2="274.99" stroke="#000" stroke-width="1"/>
<line x1="599.67" y1="274.99" x2="602.87" y2="274.99" stroke="#000" stroke-width="1"/>
<rect x="598.87" y="283.93" width="4.8" height="93.37" fill="#a80000" stroke="#000" stroke-width="0.9"/>
<rect x="607.39" y="278.36" width="4.8" height="98.94" fill="#a80000" stroke="#000" stroke-width="0.9"/>
<line x1="391.6" y1="228.30" x2="391.6" y2="377.30" stroke="#000" stroke-width="1.1"/>
<line x1="387.0" y1="377.30" x2="391.6" y2="377.30" stroke="#000" stroke-width="1"/>
<text x="386.1" y="379.60" font-size="6.4" font-weight="bold" text-anchor="end" fill="#000">0</text>
<line x1="387.0" y1="327.63" x2="391.6" y2="327.63" stroke="#000" stroke-width="1"/>
<text x="386.1" y="329.93" font-size="6.4" font-weight="bold" text-anchor="end" fill="#000">50</text>
<line x1="387.0" y1="277.97" x2="391.6" y2="277.97" stroke="#000" stroke-width="1"/>
<text x="386.1" y="280.27" font-size="6.4" font-weight="bold" text-anchor="end" fill="#000">100</text>
<line x1="387.0" y1="228.30" x2="391.6" y2="228.30" stroke="#000" stroke-width="1"/>
<text x="386.1" y="230.60" font-size="6.4" font-weight="bold" text-anchor="end" fill="#000">150</text>
<line x1="389.0" y1="352.47" x2="391.6" y2="352.47" stroke="#000" stroke-width="1"/>
<line x1="389.0" y1="302.80" x2="391.6" y2="302.80" stroke="#000" stroke-width="1"/>
<line x1="389.0" y1="253.13" x2="391.6" y2="253.13" stroke="#000" stroke-width="1"/>
<line x1="387.0" y1="377.30" x2="616" y2="377.30" stroke="#000" stroke-width="1.1"/>
<line x1="396.76" y1="377.30" x2="396.76" y2="381.50" stroke="#000" stroke-width="1.2"/>
<text x="398.16" y="387.90" font-size="6.6" font-weight="bold" text-anchor="end" fill="#000" stroke="#000" stroke-width="0.18" transform="rotate(-45 398.16 387.90)">10.000</text>
<line x1="405.28" y1="377.30" x2="405.28" y2="381.50" stroke="#000" stroke-width="1.2"/>
<text x="406.68" y="387.90" font-size="6.6" font-weight="bold" text-anchor="end" fill="#000" stroke="#000" stroke-width="0.18" transform="rotate(-45 406.68 387.90)">3.333</text>
<line x1="413.80" y1="377.30" x2="413.80" y2="381.50" stroke="#000" stroke-width="1.2"/>
<text x="415.20" y="387.90" font-size="6.6" font-weight="bold" text-anchor="end" fill="#000" stroke="#000" stroke-width="0.18" transform="rotate(-45 415.20 387.90)">1.111</text>
<line x1="422.32" y1="377.30" x2="422.32" y2="381.50" stroke="#000" stroke-width="1.2"/>
<text x="423.72" y="387.90" font-size="6.6" font-weight="bold" text-anchor="end" fill="#000" stroke="#000" stroke-width="0.18" transform="rotate(-45 423.72 387.90)">0.370</text>
<line x1="430.84" y1="377.30" x2="430.84" y2="381.50" stroke="#000" stroke-width="1.2"/>
<text x="432.24" y="387.90" font-size="6.6" font-weight="bold" text-anchor="end" fill="#000" stroke="#000" stroke-width="0.18" transform="rotate(-45 432.24 387.90)">0.123</text>
<line x1="439.36" y1="377.30" x2="439.36" y2="381.50" stroke="#000" stroke-width="1.2"/>
<text x="440.76" y="387.90" font-size="6.6" font-weight="bold" text-anchor="end" fill="#000" stroke="#000" stroke-width="0.18" transform="rotate(-45 440.76 387.90)">0.000</text>
<line x1="453.57" y1="377.30" x2="453.57" y2="381.50" stroke="#000" stroke-width="1.2"/>
<text x="454.97" y="387.90" font-size="6.6" font-weight="bold" text-anchor="end" fill="#000" stroke="#000" stroke-width="0.18" transform="rotate(-45 454.97 387.90)">10.000</text>
<line x1="462.09" y1="377.30" x2="462.09" y2="381.50" stroke="#000" stroke-width="1.2"/>
<text x="463.49" y="387.90" font-size="6.6" font-weight="bold" text-anchor="end" fill="#000" stroke="#000" stroke-width="0.18" transform="rotate(-45 463.49 387.90)">3.333</text>
<line x1="470.61" y1="377.30" x2="470.61" y2="381.50" stroke="#000" stroke-width="1.2"/>
<text x="472.01" y="387.90" font-size="6.6" font-weight="bold" text-anchor="end" fill="#000" stroke="#000" stroke-width="0.18" transform="rotate(-45 472.01 387.90)">1.111</text>
<line x1="479.13" y1="377.30" x2="479.13" y2="381.50" stroke="#000" stroke-width="1.2"/>
<text x="480.53" y="387.90" font-size="6.6" font-weight="bold" text-anchor="end" fill="#000" stroke="#000" stroke-width="0.18" transform="rotate(-45 480.53 387.90)">0.370</text>
<line x1="487.65" y1="377.30" x2="487.65" y2="381.50" stroke="#000" stroke-width="1.2"/>
<text x="489.05" y="387.90" font-size="6.6" font-weight="bold" text-anchor="end" fill="#000" stroke="#000" stroke-width="0.18" transform="rotate(-45 489.05 387.90)">0.123</text>
<line x1="496.17" y1="377.30" x2="496.17" y2="381.50" stroke="#000" stroke-width="1.2"/>
<text x="497.57" y="387.90" font-size="6.6" font-weight="bold" text-anchor="end" fill="#000" stroke="#000" stroke-width="0.18" transform="rotate(-45 497.57 387.90)">0.000</text>
<line x1="510.38" y1="377.30" x2="510.38" y2="381.50" stroke="#000" stroke-width="1.2"/>
<text x="511.78" y="387.90" font-size="6.6" font-weight="bold" text-anchor="end" fill="#000" stroke="#000" stroke-width="0.18" transform="rotate(-45 511.78 387.90)">10.000</text>
<line x1="518.90" y1="377.30" x2="518.90" y2="381.50" stroke="#000" stroke-width="1.2"/>
<text x="520.30" y="387.90" font-size="6.6" font-weight="bold" text-anchor="end" fill="#000" stroke="#000" stroke-width="0.18" transform="rotate(-45 520.30 387.90)">3.333</text>
<line x1="527.42" y1="377.30" x2="527.42" y2="381.50" stroke="#000" stroke-width="1.2"/>
<text x="528.82" y="387.90" font-size="6.6" font-weight="bold" text-anchor="end" fill="#000" stroke="#000" stroke-width="0.18" transform="rotate(-45 528.82 387.90)">1.111</text>
<line x1="535.94" y1="377.30" x2="535.94" y2="381.50" stroke="#000" stroke-width="1.2"/>
<text x="537.34" y="387.90" font-size="6.6" font-weight="bold" text-anchor="end" fill="#000" stroke="#000" stroke-width="0.18" transform="rotate(-45 537.34 387.90)">0.370</text>
<line x1="544.46" y1="377.30" x2="544.46" y2="381.50" stroke="#000" stroke-width="1.2"/>
<text x="545.86" y="387.90" font-size="6.6" font-weight="bold" text-anchor="end" fill="#000" stroke="#000" stroke-width="0.18" transform="rotate(-45 545.86 387.90)">0.123</text>
<line x1="552.98" y1="377.30" x2="552.98" y2="381.50" stroke="#000" stroke-width="1.2"/>
<text x="554.38" y="387.90" font-size="6.6" font-weight="bold" text-anchor="end" fill="#000" stroke="#000" stroke-width="0.18" transform="rotate(-45 554.38 387.90)">0.000</text>
<line x1="567.19" y1="377.30" x2="567.19" y2="381.50" stroke="#000" stroke-width="1.2"/>
<text x="568.59" y="387.90" font-size="6.6" font-weight="bold" text-anchor="end" fill="#000" stroke="#000" stroke-width="0.18" transform="rotate(-45 568.59 387.90)">0.500</text>
<line x1="575.71" y1="377.30" x2="575.71" y2="381.50" stroke="#000" stroke-width="1.2"/>
<text x="577.11" y="387.90" font-size="6.6" font-weight="bold" text-anchor="end" fill="#000" stroke="#000" stroke-width="0.18" transform="rotate(-45 577.11 387.90)">0.167</text>
<line x1="584.23" y1="377.30" x2="584.23" y2="381.50" stroke="#000" stroke-width="1.2"/>
<text x="585.63" y="387.90" font-size="6.6" font-weight="bold" text-anchor="end" fill="#000" stroke="#000" stroke-width="0.18" transform="rotate(-45 585.63 387.90)">0.056</text>
<line x1="592.75" y1="377.30" x2="592.75" y2="381.50" stroke="#000" stroke-width="1.2"/>
<text x="594.15" y="387.90" font-size="6.6" font-weight="bold" text-anchor="end" fill="#000" stroke="#000" stroke-width="0.18" transform="rotate(-45 594.15 387.90)">0.019</text>
<line x1="601.27" y1="377.30" x2="601.27" y2="381.50" stroke="#000" stroke-width="1.2"/>
<text x="602.67" y="387.90" font-size="6.6" font-weight="bold" text-anchor="end" fill="#000" stroke="#000" stroke-width="0.18" transform="rotate(-45 602.67 387.90)">0.006</text>
<line x1="609.79" y1="377.30" x2="609.79" y2="381.50" stroke="#000" stroke-width="1.2"/>
<text x="611.19" y="387.90" font-size="6.6" font-weight="bold" text-anchor="end" fill="#000" stroke="#000" stroke-width="0.18" transform="rotate(-45 611.19 387.90)">0.000</text>
<text x="0" y="0" font-size="9" font-weight="bold" text-anchor="middle" fill="#111" transform="translate(361.2 304.80) rotate(-90)">HCVpp cell entry</text>
<text x="0" y="0" font-size="9" font-weight="bold" text-anchor="middle" fill="#111" transform="translate(371.4 304.80) rotate(-90)">[% DMSO control]</text>
<text x="448.2" y="414.2" font-size="9" font-weight="bold" fill="#111" textLength="110.6" lengthAdjust="spacingAndGlyphs">Compound concentration</text>
<text x="504.2" y="424.9" font-size="9" font-weight="bold" text-anchor="middle" fill="#111">[µM]</text>
<text x="351.4" y="223.3" font-size="14.8" font-weight="bold" fill="#111" textLength="6.7" lengthAdjust="spacingAndGlyphs">c</text><text x="359.1" y="222.8" font-size="14.3" font-weight="bold" fill="#111">)</text>
<rect x="622" y="232.30" width="10" height="5.8" fill="#005e00" stroke="#000" stroke-width="0.9"/>
<text x="637.8" y="238.20" font-size="9" fill="#111">CN-861-2</text>
<rect x="622" y="246.40" width="10" height="5.8" fill="#420058" stroke="#000" stroke-width="0.9"/>
<text x="637.8" y="252.30" font-size="9" fill="#111">Cysto-180</text>
<rect x="622" y="260.50" width="10" height="5.8" fill="#7f7d00" stroke="#000" stroke-width="0.9"/>
<text x="637.8" y="266.40" font-size="9" fill="#111">CN-DM-861</text>
<rect x="622" y="274.60" width="10" height="5.8" fill="#a80000" stroke="#000" stroke-width="0.9"/>
<text x="637.8" y="280.50" font-size="9" fill="#111">ITX5061</text>
</svg></body></html>
